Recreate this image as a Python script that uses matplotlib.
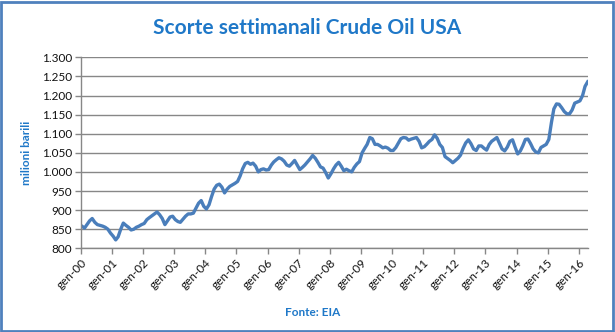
import pandas as pd
import matplotlib.pyplot as plt
from matplotlib.ticker import FuncFormatter
from matplotlib.patches import Rectangle

# monthly readings (milioni di barili), Jan 2000 .. Apr 2016
stocks_2000 = [858, 853, 862, 872, 878, 868, 862, 860, 858, 855, 850, 840]
stocks_2001 = [832, 822, 830, 850, 866, 860, 855, 848, 850, 855, 858, 862]
stocks_2002 = [865, 875, 880, 885, 890, 895, 888, 878, 862, 872, 882, 884]
stocks_2003 = [875, 870, 868, 876, 884, 890, 890, 892, 905, 918, 925, 910]
stocks_2004 = [903, 914, 935, 955, 965, 968, 960, 945, 955, 962, 966, 970]
stocks_2005 = [975, 990, 1008, 1022, 1025, 1020, 1023, 1015, 1000, 1006, 1008, 1005]
stocks_2006 = [1006, 1018, 1026, 1032, 1037, 1034, 1028, 1018, 1015, 1022, 1030, 1018]
stocks_2007 = [1006, 1012, 1018, 1026, 1034, 1043, 1036, 1025, 1013, 1010, 998, 984]
stocks_2008 = [995, 1008, 1018, 1025, 1015, 1003, 1007, 1003, 1000, 1012, 1021, 1027]
stocks_2009 = [1050, 1062, 1072, 1090, 1087, 1072, 1072, 1068, 1063, 1065, 1062, 1056]
stocks_2010 = [1056, 1064, 1075, 1087, 1090, 1089, 1083, 1086, 1088, 1090, 1080, 1063]
stocks_2011 = [1066, 1073, 1080, 1085, 1097, 1088, 1072, 1064, 1040, 1035, 1030, 1024]
stocks_2012 = [1030, 1036, 1044, 1062, 1076, 1084, 1074, 1060, 1056, 1068, 1068, 1062]
stocks_2013 = [1057, 1072, 1080, 1085, 1090, 1075, 1060, 1055, 1065, 1080, 1084, 1065]
stocks_2014 = [1047, 1055, 1068, 1085, 1086, 1074, 1060, 1052, 1050, 1064, 1068, 1072]
stocks_2015 = [1085, 1130, 1165, 1178, 1177, 1168, 1158, 1152, 1152, 1162, 1180, 1183]
stocks_2016 = [1186, 1200, 1224, 1236]

stocks = (stocks_2000 + stocks_2001 + stocks_2002 + stocks_2003 + stocks_2004 +
          stocks_2005 + stocks_2006 + stocks_2007 + stocks_2008 + stocks_2009 +
          stocks_2010 + stocks_2011 + stocks_2012 + stocks_2013 + stocks_2014 +
          stocks_2015 + stocks_2016)
dates = pd.date_range('2000-01-01', periods=len(stocks), freq='MS') + pd.Timedelta(days=14)

years = list(range(2000, 2017))
year_labels = ['gen-%02d' % (y % 100) for y in years]
y_ticks = [800, 850, 900, 950, 1000, 1050, 1100, 1150, 1200, 1250, 1300]

blue_text = '#1F78C8'
grid_col = '#878787'

plt.rcParams['font.family'] = ['Lato', 'DejaVu Sans']

fig = plt.figure(figsize=(6.15, 3.32), dpi=100)
fig.patch.set_facecolor('white')
ax = fig.add_axes([0.1312, 0.2521, 0.8244, 0.5753])

ax.plot(dates, stocks, color='#4A7EBB', linewidth=2.4, solid_joinstyle='round')

ax.set_ylim(800, 1300)
ax.set_yticks(y_ticks)
ax.yaxis.set_major_formatter(FuncFormatter(lambda v, p: '{:,.0f}'.format(v).replace(',', '.')))
ax.grid(axis='y', color=grid_col, linewidth=1)
ax.set_axisbelow(True)

ax.set_xlim(pd.Timestamp('2000-01-01'), dates[-1])
ax.set_xticks([pd.Timestamp('%d-01-01' % y) for y in years])
ax.set_xticklabels(year_labels, rotation=45, ha='right', rotation_mode='anchor')

for s in ['top', 'right']:
    ax.spines[s].set_visible(False)
for s in ['left', 'bottom']:
    ax.spines[s].set_color(grid_col)
    ax.spines[s].set_linewidth(1)
ax.tick_params(axis='both', colors=grid_col, length=4, width=1, labelcolor='#111111', labelsize=8.5)
ax.tick_params(axis='y', pad=2)
ax.tick_params(axis='x', pad=2)

ax.set_ylabel('milioni barili', color=blue_text, fontsize=8.5, fontweight='bold', labelpad=7)

fig.text(0.5, 0.915, 'Scorte settimanali Crude Oil USA', ha='center', va='center',
         fontsize=15, fontweight='bold', color=blue_text)
fig.text(0.508, 0.058, 'Fonte: EIA', ha='center', va='center',
         fontsize=8.5, fontweight='bold', color=blue_text)

fig.patches.append(Rectangle((0.002, 0.003), 0.994, 0.992, transform=fig.transFigure,
                             fill=False, edgecolor='#4F81BD', linewidth=2))

fig.savefig('out.png', dpi=100)
